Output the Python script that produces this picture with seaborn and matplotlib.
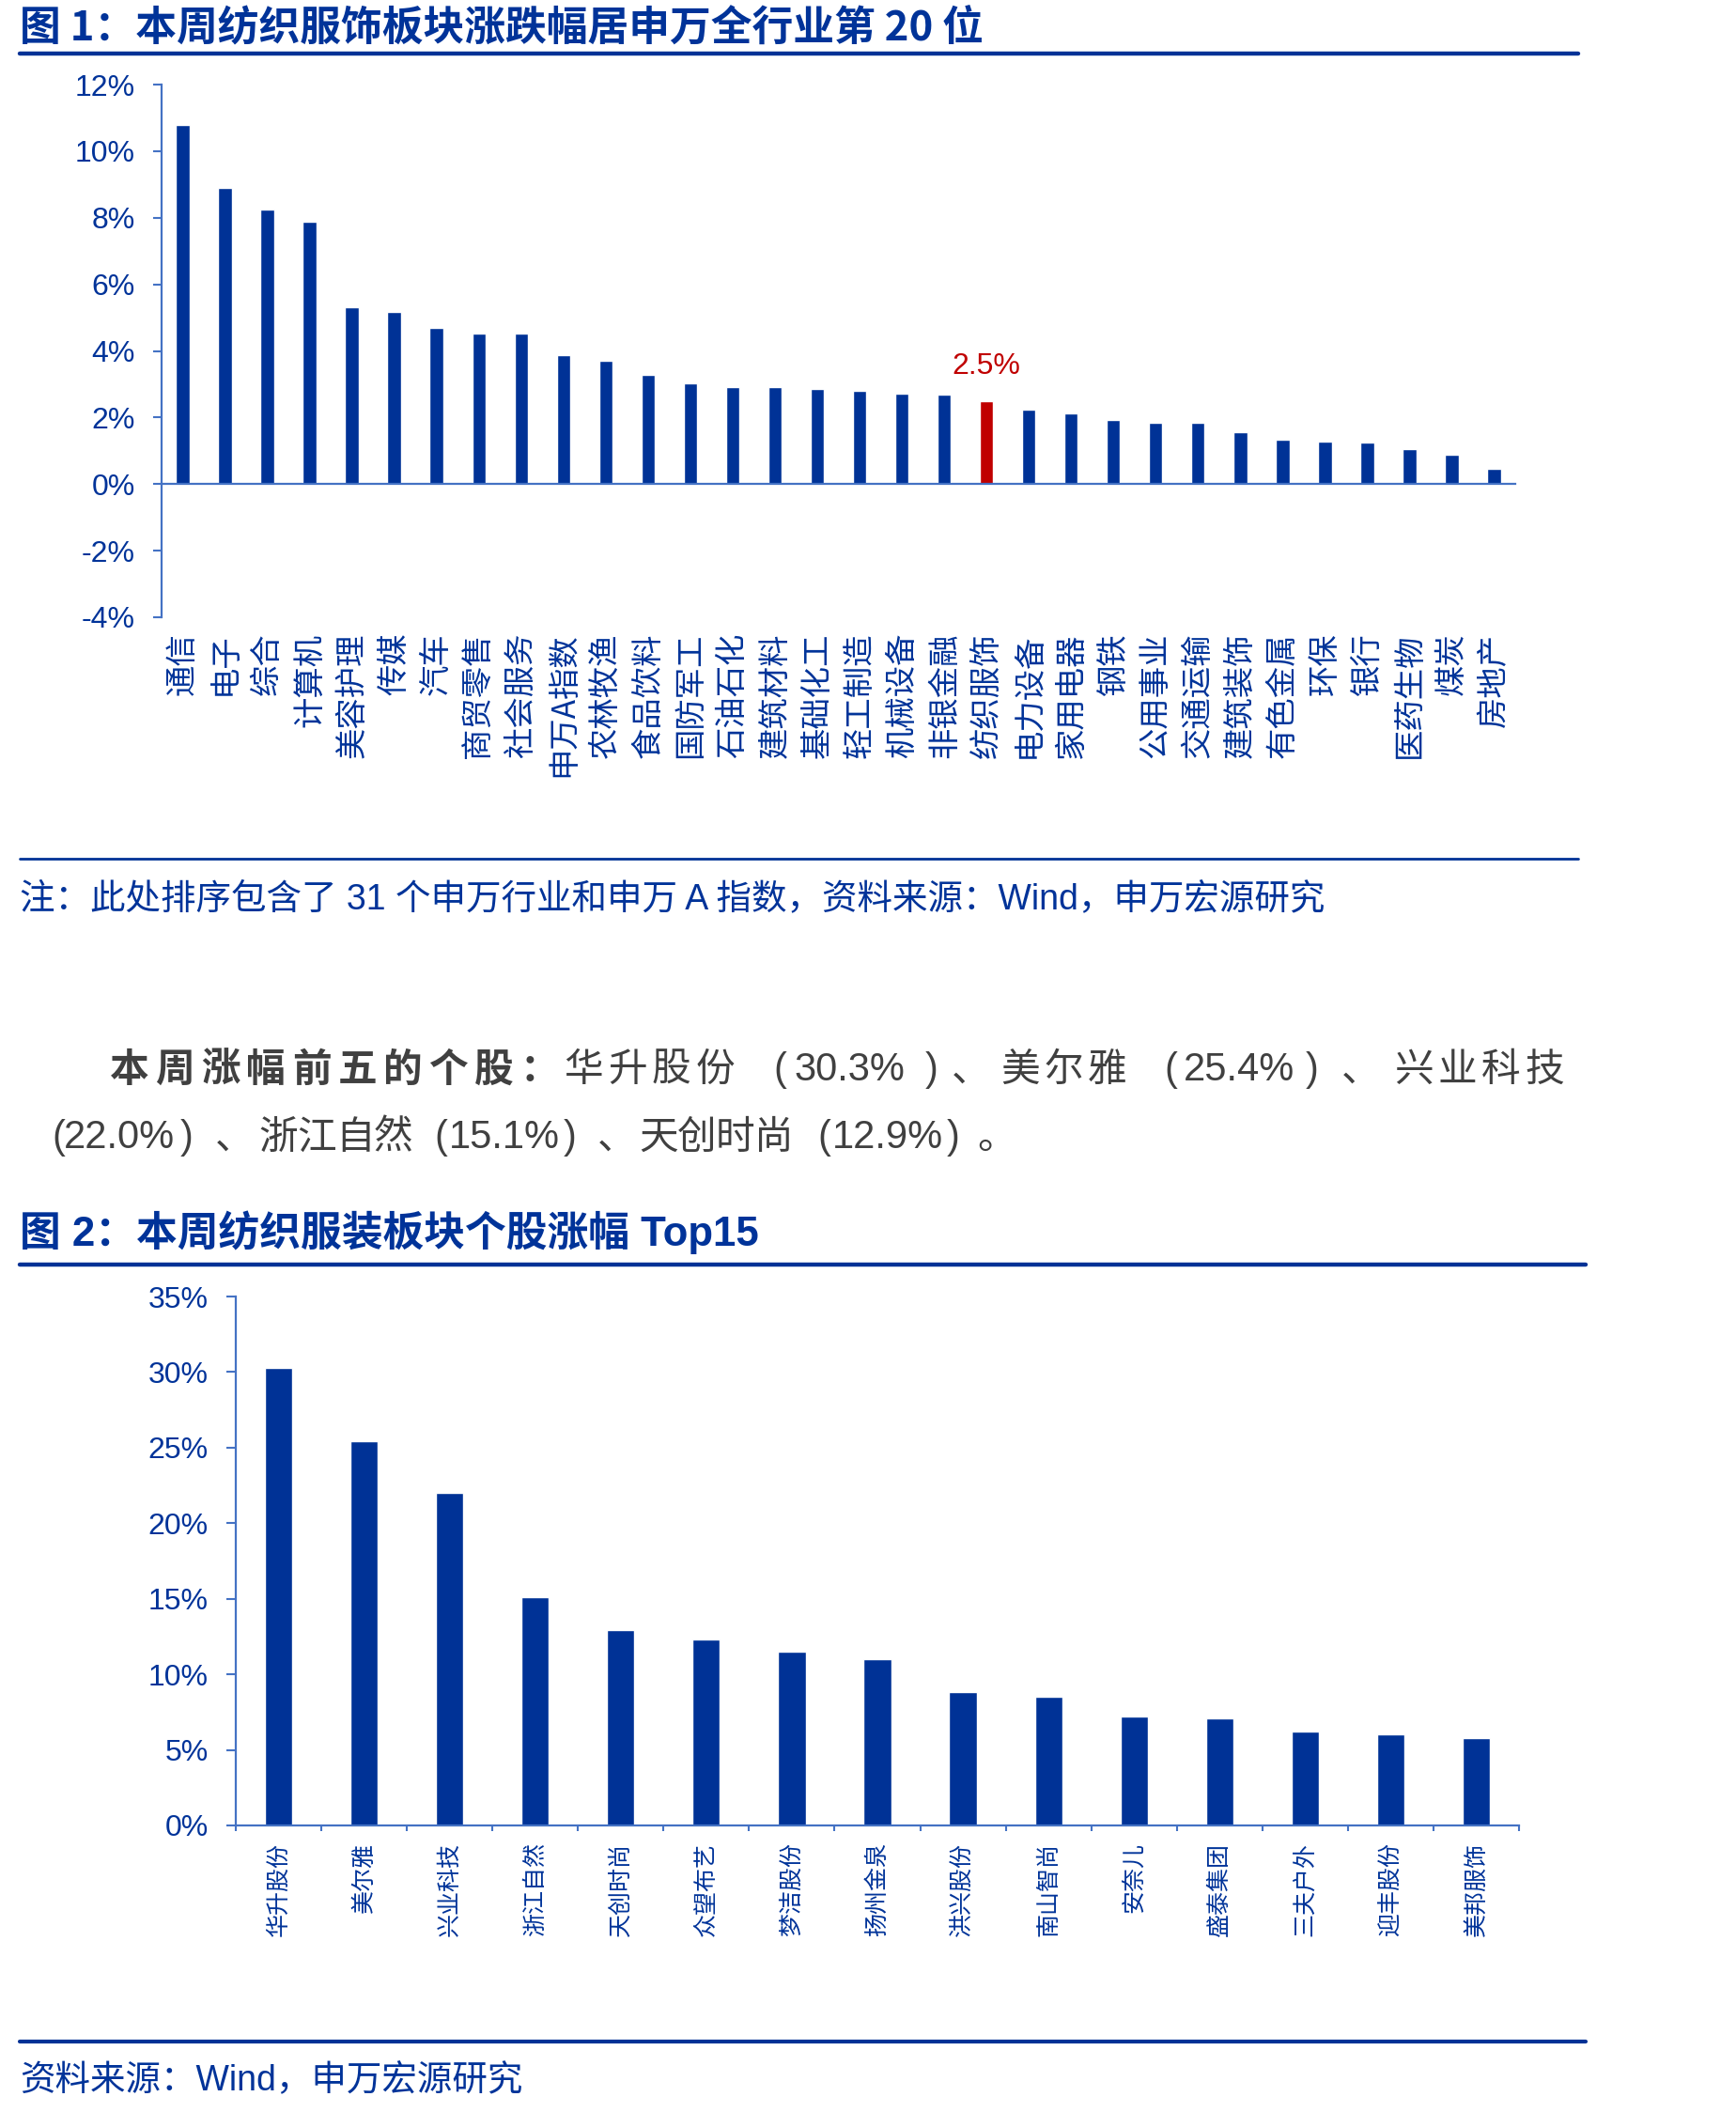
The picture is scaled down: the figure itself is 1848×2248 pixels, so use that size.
import numpy as np
import matplotlib
matplotlib.use("Agg")
import matplotlib.pyplot as plt
from matplotlib.lines import Line2D
from matplotlib.ticker import FuncFormatter
import seaborn as sns

# ---- data ----------------------------------------------------------------
industries = ["通信", "电子", "综合", "计算机", "美容护理", "传媒", "汽车", "商贸零售",
              "社会服务", "申万A指数", "农林牧渔", "食品饮料", "国防军工", "石油石化",
              "建筑材料", "基础化工", "轻工制造", "机械设备", "非银金融", "纺织服饰",
              "电力设备", "家用电器", "钢铁", "公用事业", "交通运输", "建筑装饰",
              "有色金属", "环保", "银行", "医药生物", "煤炭", "房地产"]
ind_chg = [10.80, 8.91, 8.24, 7.89, 5.32, 5.16, 4.68, 4.51,
           4.51, 3.86, 3.69, 3.27, 3.04, 2.90,
           2.90, 2.85, 2.79, 2.73, 2.68, 2.48,
           2.25, 2.13, 1.94, 1.85, 1.83, 1.57,
           1.32, 1.29, 1.24, 1.04, 0.89, 0.47]
highlight = "纺织服饰"

stocks = ["华升股份", "美尔雅", "兴业科技", "浙江自然", "天创时尚", "众望布艺", "梦洁股份",
          "扬州金泉", "洪兴股份", "南山智尚", "安奈儿", "盛泰集团", "三夫户外", "迎丰股份",
          "美邦服饰"]
stock_chg = [30.3, 25.4, 22.0, 15.1, 12.9, 12.3, 11.5, 11.0, 8.8, 8.5, 7.2, 7.1, 6.2, 6.05, 5.8]

# ---- style ---------------------------------------------------------------
sns.set_theme(style="white")
plt.rcParams["font.family"] = ["Liberation Sans", "Noto Sans CJK SC", "DejaVu Sans"]
CJK = ["Noto Sans CJK SC", "DejaVu Sans"]

BLUE = "#003296"
RED = "#C00000"
AXIS = "#4472C4"
TXT = "#003399"
GRAY = "#404040"

W, H = 1849, 2248
fig = plt.figure(figsize=(W / 100, H / 100), dpi=100)


def fx(px):
    return px / W


def fy(py):
    return 1 - py / H


def rule(x0, x1, y, lw):
    fig.add_artist(Line2D([fx(x0), fx(x1)], [fy(y), fy(y)], color=BLUE, lw=lw,
                          transform=fig.transFigure))


def pieces(items, y, size=30):
    # items: (text, x_px, step_px or None, weight)
    for txt, x0, step, wt in items:
        if step is None:
            fig.text(fx(x0), fy(y), txt, fontsize=size, color=GRAY, va="center",
                     fontweight=wt)
        else:
            for k, ch in enumerate(txt):
                fig.text(fx(x0 + k * step), fy(y), ch, fontsize=size, color=GRAY,
                         va="center", fontweight=wt, family=CJK)


pct = FuncFormatter(lambda v, p: f"{v:.0f}%")

# ---- 图1 -----------------------------------------------------------------
fig.text(fx(21), fy(29), "图 1：本周纺织服饰板块涨跌幅居申万全行业第 20 位", fontsize=31.5,
         fontweight="bold", color=TXT, va="center", family=CJK)
rule(21, 1680, 57, 3.2)

ax1 = fig.add_axes([fx(172), fy(657), (1613 - 172) / W, (657 - 90) / H])
n1 = len(industries)
pal1 = [RED if c == highlight else BLUE for c in industries]
sns.barplot(x=industries, y=ind_chg, hue=industries, palette=pal1, legend=False,
            width=0.32, saturation=1, ax=ax1)
ax1.set_ylim(-4, 12)
ax1.set_xlim(-0.5, n1 - 0.5)
ax1.set_yticks(np.arange(-4, 13, 2))
ax1.yaxis.set_major_formatter(pct)
for s in ["top", "right"]:
    ax1.spines[s].set_visible(False)
ax1.spines["left"].set_color(AXIS)
ax1.spines["left"].set_linewidth(1.6)
ax1.spines["bottom"].set_position(("data", 0))
ax1.spines["bottom"].set_color(AXIS)
ax1.spines["bottom"].set_linewidth(1.6)
ax1.set_xticks(range(n1))
ax1.set_xticklabels([])
ax1.set_xticks(np.arange(-0.5, n1, 1), minor=True)
ax1.tick_params(axis="x", which="major", length=0)
ax1.tick_params(axis="x", which="minor", length=8, width=1.5, color=AXIS, direction="out")
ax1.tick_params(axis="y", length=6.5, width=1.5, color=AXIS, direction="out",
                labelsize=23, labelcolor=TXT, pad=14, left=True)
ax1.set_xlabel("")
ax1.set_ylabel("")
for i, c in enumerate(industries):
    ax1.text(i, -0.029, c, transform=ax1.get_xaxis_transform(), rotation=90,
             ha="center", va="top", fontsize=24, color=TXT, family=CJK)
hi = industries.index(highlight)
ax1.text(hi, ind_chg[hi] + 0.62, f"{ind_chg[hi]:.1f}%", ha="center", va="bottom",
         fontsize=23, color=RED)

rule(21, 1680, 914, 2.0)
fig.text(fx(21), fy(957), "注：此处排序包含了 31 个申万行业和申万 A 指数，资料来源：Wind，申万宏源研究",
         fontsize=27, color=TXT, va="center")

# ---- 正文段落 -------------------------------------------------------------
pieces([("本周涨幅前五的个股：", 117, 48.5, "bold"),
        ("华升股份", 600, 47, "normal"),
        ("(", 823, None, "normal"),
        ("30.3%", 845, None, "normal"),
        (")", 985, None, "normal"),
        ("、", 1013, 46, "normal"),
        ("美尔雅", 1065, 46.5, "normal"),
        ("(", 1239, None, "normal"),
        ("25.4%", 1260, None, "normal"),
        (")", 1390, None, "normal"),
        ("、", 1428, 46, "normal"),
        ("兴业科技", 1484, 46.5, "normal")], 1139)
pieces([("(", 55, None, "normal"),
        ("22.0%", 68, None, "normal"),
        (")", 192, None, "normal"),
        ("、", 229, 41, "normal"),
        ("浙江自然", 275, 41, "normal"),
        ("(", 462, None, "normal"),
        ("15.1%", 478, None, "normal"),
        (")", 600, None, "normal"),
        ("、", 636, 41, "normal"),
        ("天创时尚", 680, 41, "normal"),
        ("(", 870, None, "normal"),
        ("12.9%", 886, None, "normal"),
        (")", 1008, None, "normal"),
        ("。", 1040, 41, "normal")], 1211)

# ---- 图2 -----------------------------------------------------------------
fig.text(fx(21), fy(1312), "图 2：本周纺织服装板块个股涨幅 Top15", fontsize=31.5,
         fontweight="bold", color=TXT, va="center")
rule(21, 1688, 1346, 3.2)

ax2 = fig.add_axes([fx(251), fy(1943), (1617 - 251) / W, (1943 - 1380) / H])
n2 = len(stocks)
sns.barplot(x=stocks, y=stock_chg, color=BLUE, width=0.32, saturation=1, ax=ax2)
ax2.set_ylim(0, 35)
ax2.set_xlim(-0.5, n2 - 0.5)
ax2.set_yticks(np.arange(0, 36, 5))
ax2.yaxis.set_major_formatter(pct)
for s in ["top", "right"]:
    ax2.spines[s].set_visible(False)
for s in ["left", "bottom"]:
    ax2.spines[s].set_color(AXIS)
    ax2.spines[s].set_linewidth(1.6)
ax2.set_xticks(range(n2))
ax2.set_xticklabels(stocks, rotation=90, fontsize=18, color=TXT, family=CJK)
ax2.set_xticks(np.arange(-0.5, n2, 1), minor=True)
ax2.tick_params(axis="x", which="major", length=0, pad=13)
ax2.tick_params(axis="x", which="minor", length=4.5, width=1.5, color=AXIS,
                direction="out", bottom=True)
ax2.tick_params(axis="y", length=7, width=1.5, color=AXIS, direction="out",
                labelsize=23, labelcolor=TXT, pad=14, left=True)
ax2.set_xlabel("")
ax2.set_ylabel("")

rule(21, 1688, 2173, 3.0)
fig.text(fx(21), fy(2215), "资料来源：Wind，申万宏源研究", fontsize=27, color=TXT, va="center")

fig.savefig("out.png", dpi=100)
